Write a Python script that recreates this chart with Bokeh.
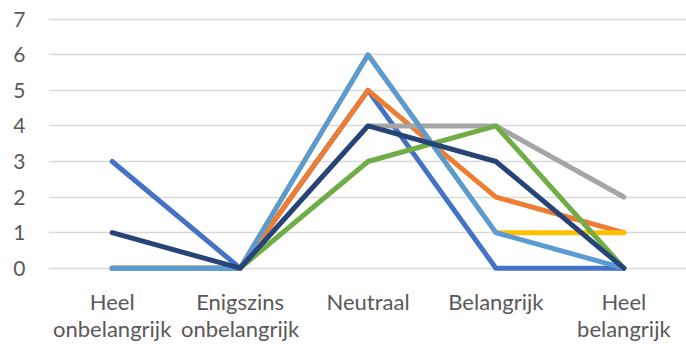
from bokeh.plotting import figure
from bokeh.models import Range1d, FixedTicker, LinearAxis
from bokeh.embed import file_html
from bokeh.resources import INLINE

categories = ["Heel\nonbelangrijk", "Enigszins\nonbelangrijk", "Neutraal", "Belangrijk", "Heel\nbelangrijk"]
x_pos = [0, 1, 2, 3, 4]

reeks1 = [3, 0, 5, 0, 0]
reeks2 = [0, 0, 5, 2, 1]
reeks3 = [0, 0, 4, 4, 2]
reeks4 = [0, 0, 6, 1, 1]
reeks5 = [0, 0, 3, 4, 0]
reeks6 = [0, 0, 6, 1, 0]
reeks7 = [1, 0, 4, 3, 0]

series = [reeks1, reeks2, reeks3, reeks4, reeks5, reeks6, reeks7]
colors = ["#4472C4", "#ED7D31", "#A5A5A5", "#FFC000", "#70AD47", "#5B9BD5", "#264478"]
y_ticks = [0, 1, 2, 3, 4, 5, 6, 7]

first_lines = [c.split("\n")[0] for c in categories]
second_lines = [c.split("\n")[1] if "\n" in c else "" for c in categories]

p = figure(width=686, height=344, output_backend="svg", toolbar_location=None,
           x_range=Range1d(-0.498, 4.490), y_range=Range1d(-0.121, 7.245),
           min_border_left=48, min_border_right=0, min_border_top=10, min_border_bottom=72)
p.outline_line_color = None
p.background_fill_color = "white"
p.border_fill_color = "white"

for vals, c in zip(series, colors):
    p.line(x_pos, vals, line_color=c, line_width=5, line_cap="round", line_join="round")

font = "Lato"
grey = "#595959"
p.yaxis.ticker = FixedTicker(ticks=y_ticks)
p.yaxis.axis_line_color = None
p.yaxis.major_tick_line_color = None
p.yaxis.minor_tick_line_color = None
p.yaxis.major_tick_out = 0
p.yaxis.major_label_standoff = 23
p.yaxis.major_label_text_font = font
p.yaxis.major_label_text_font_size = "21px"
p.yaxis.major_label_text_color = grey


def style_x(ax, labels, standoff):
    ax.ticker = FixedTicker(ticks=x_pos)
    ax.major_label_overrides = {i: t for i, t in zip(x_pos, labels)}
    ax.axis_line_color = None
    ax.major_tick_line_color = None
    ax.minor_tick_line_color = None
    ax.major_tick_out = 0
    ax.major_tick_in = 0
    ax.major_label_standoff = standoff
    ax.major_label_text_font = font
    ax.major_label_text_font_size = "22px"
    ax.major_label_text_color = grey


style_x(p.xaxis[0], first_lines, 15)
ax2 = LinearAxis()
style_x(ax2, second_lines, -3)
p.add_layout(ax2, "below")

p.xgrid.grid_line_color = None
p.ygrid.ticker = FixedTicker(ticks=y_ticks)
p.ygrid.grid_line_color = "#D9D9D9"
p.ygrid.grid_line_width = 1.5

open("out.html", "w").write(file_html(p, INLINE))
